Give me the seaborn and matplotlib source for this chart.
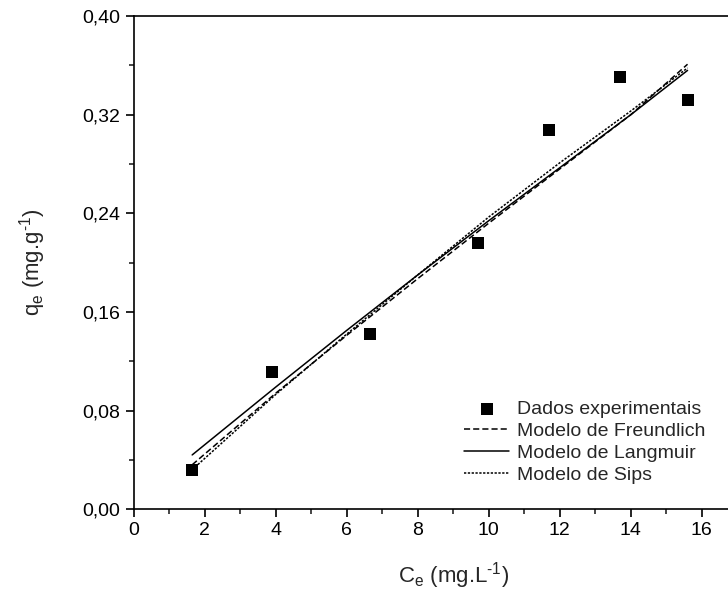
import numpy as np
import pandas as pd
import matplotlib
matplotlib.use("Agg")
import matplotlib.pyplot as plt
from matplotlib.ticker import MultipleLocator, FixedLocator, FuncFormatter
import seaborn as sns

sns.set_style("ticks")
plt.rcParams['font.family'] = ['Liberation Sans', 'DejaVu Sans']
plt.rcParams['mathtext.default'] = 'regular'
plt.rcParams['font.size'] = 14

# experimental data
ce_exp = [1.65, 3.9, 6.65, 9.7, 11.7, 13.7, 15.6]
qe_exp = [0.032, 0.111, 0.142, 0.216, 0.308, 0.351, 0.332]

# model curves
ce_model = [1.65, 4, 6, 8, 10, 12, 14, 15.6]
qe_freundlich = [0.036, 0.094, 0.141, 0.187, 0.232, 0.276, 0.320, 0.361]
qe_langmuir = [0.044, 0.099, 0.145, 0.190, 0.234, 0.277, 0.320, 0.356]
qe_sips = [0.032, 0.093, 0.142, 0.190, 0.237, 0.281, 0.323, 0.358]

x_ticks = [0, 2, 4, 6, 8, 10, 12, 14, 16]

df_exp = pd.DataFrame({"Ce": ce_exp, "qe": qe_exp})
df_mod = pd.DataFrame({"Ce": ce_model, "F": qe_freundlich,
                       "L": qe_langmuir, "S": qe_sips})

fig = plt.figure(figsize=(7.28, 5.99), dpi=100)
ax = fig.add_axes([0.1835, 0.150, 0.878, 0.823])

sns.scatterplot(data=df_exp, x="Ce", y="qe", marker="s", s=85, color="black",
                edgecolor="black", linewidth=0, ax=ax, label="Dados experimentais",
                zorder=3)
sns.lineplot(data=df_mod, x="Ce", y="F", ax=ax, color="black", lw=1.1,
             label="Modelo de Freundlich")
sns.lineplot(data=df_mod, x="Ce", y="L", ax=ax, color="black", lw=1.1,
             label="Modelo de Langmuir")
sns.lineplot(data=df_mod, x="Ce", y="S", ax=ax, color="black", lw=1.1,
             label="Modelo de Sips")
ax.lines[0].set_dashes([4, 2])
ax.lines[2].set_dashes([1.5, 1])

ax.set_xlim(0, 18)
ax.set_ylim(0, 0.40)
ax.xaxis.set_major_locator(FixedLocator(x_ticks))
ax.xaxis.set_minor_locator(FixedLocator(list(range(1, 18, 2))))
ax.yaxis.set_major_locator(MultipleLocator(0.08))
ax.yaxis.set_minor_locator(MultipleLocator(0.04))
ax.yaxis.set_major_formatter(FuncFormatter(lambda v, p: f"{v:.2f}".replace(".", ",")))
ax.xaxis.set_major_formatter(FuncFormatter(lambda v, p: f"{v:.0f}"))

for s in ax.spines.values():
    s.set_linewidth(1.2)
    s.set_color("black")
ax.tick_params(which="major", direction="out", length=6, width=1.2, labelsize=14,
               colors="black")
ax.tick_params(which="minor", direction="out", length=3.5, width=1.2)

ax.set_xlabel("C$_e$ (mg.L$^{\u20101}$)", fontsize=16, labelpad=15)
ax.set_ylabel("q$_e$ (mg.g$^{\u20101}$)", fontsize=16, labelpad=25)

ax.legend(loc="lower left", bbox_to_anchor=(0.49, 0.016), frameon=False,
          fontsize=14, handlelength=2.3, handletextpad=0.4, labelspacing=0.22,
          borderaxespad=0.5)

fig.savefig("out.png", dpi=100)
